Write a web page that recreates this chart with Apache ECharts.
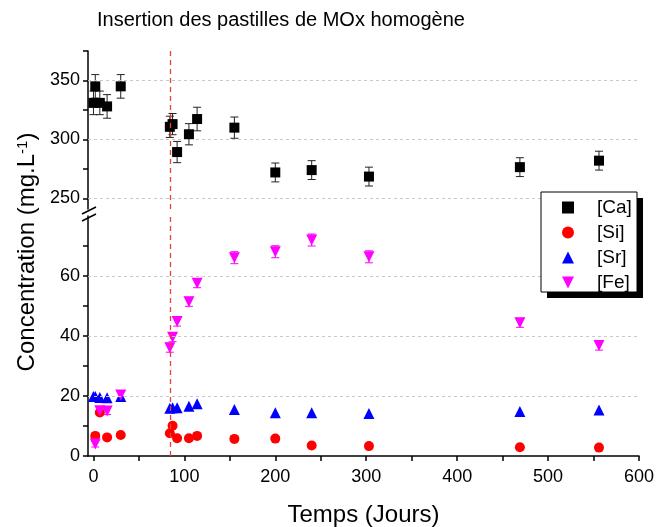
<!DOCTYPE html>
<html><head><meta charset="utf-8">
<script src="https://cdn.jsdelivr.net/npm/echarts@6/dist/echarts.min.js"></script>
<style>html,body{margin:0;padding:0;background:#fff}#c{width:659px;height:527px}</style>
</head><body><div id="c"></div>
<script>
const days  = [0, 2, 7, 15, 30, 84, 87, 92, 105, 114, 155, 200, 240, 303, 469, 556];
const ca    = [331, 345, 331, 328, 345, 310.7, 313, 289.3, 304.4, 317.3, 310, 272, 274, 268.5, 276.5, 282];
const caErr = [10, 10, 10, 10, 10, 9, 9, 9, 9, 10, 9, 8, 8, 8, 8, 8];
const si    = [null, 6.7, 14.5, 6.2, 7.0, 7.6, 10.1, 5.9, 5.9, 6.7, 5.7, 5.8, 3.5, 3.3, 2.9, 2.8];
const sr    = [19.8, 19.8, 19.5, 19.4, 19.8, 15.9, 16.1, 16.1, 16.6, 17.4, 15.5, 14.4, 14.4, 14.2, 14.8, 15.3];
const fe    = [null, 4.0, 15.1, 15.0, 20.3, 36.1, 39.6, 44.8, 51.4, 57.6, 66.1, 68.1, 72.0, 66.4, 44.4, 36.8];
const feErr = [0, 1, 1.2, 1.2, 1.2, 1.5, 1.5, 1.5, 1.5, 1.5, 2, 2, 2, 2, 1.5, 1.5];
const insertionDay = 84;
const xLabels = [0, 100, 200, 300, 400, 500, 600];
const xTicks = [0, 50, 100, 150, 200, 250, 300, 350, 400, 450, 500, 550, 600];
const upperLabels = [250, 300, 350];
const upperTicks = [250, 275, 300, 325, 350, 375];
const lowerLabels = [0, 20, 40, 60];
const lowerTicks = [0, 10, 20, 30, 40, 50, 60, 70];
const lowerGrid = [20, 40, 60];

const FONT = 'Liberation Sans';
const pts = arr => days.map((d, i) => arr[i] == null ? null : [d, arr[i]]).filter(Boolean);
const errPts = (arr, err) => days.map((d, i) => arr[i] == null || !err[i] ? null : [d, arr[i] - err[i], arr[i] + err[i]]).filter(Boolean);

function errSeries(xi, yi, data, color) {
  return {
    type: 'custom', xAxisIndex: xi, yAxisIndex: yi, silent: true, z: 1,
    encode: { x: 0, y: [1, 2] },
    data: data,
    renderItem: function (params, api) {
      const x = api.value(0), lo = api.value(1), hi = api.value(2);
      const a = api.coord([x, hi]), b = api.coord([x, lo]);
      const w = 4, st = { stroke: color, lineWidth: 1 };
      return { type: 'group', children: [
        { type: 'line', shape: { x1: a[0], y1: a[1], x2: b[0], y2: b[1] }, style: st },
        { type: 'line', shape: { x1: a[0] - w, y1: a[1], x2: a[0] + w, y2: a[1] }, style: st },
        { type: 'line', shape: { x1: b[0] - w, y1: b[1], x2: b[0] + w, y2: b[1] }, style: st }
      ]};
    }
  };
}
const gridLine = vals => ({
  silent: true, symbol: ['none', 'none'], label: { show: false },
  lineStyle: { color: '#c8c8c8', type: [3, 3], width: 1 },
  data: vals.map(v => ({ yAxis: v }))
});
const redLine = {
  silent: true, symbol: ['none', 'none'], label: { show: false },
  lineStyle: { color: '#e8423f', type: [5, 4], width: 1.3 },
  data: [{ xAxis: insertionDay }]
};
const axisCommon = {
  axisLine: { show: true, onZero: false, lineStyle: { color: '#000', width: 1.5 } },
  axisTick: { show: true, inside: false, length: 5, lineStyle: { color: '#000', width: 1.5 } },
  splitLine: { show: false },
  axisLabel: { color: '#000', fontSize: 18, fontFamily: FONT }
};

const chart = echarts.init(document.getElementById('c'), null, { renderer: 'canvas' });
chart.setOption({
  animation: false,
  backgroundColor: '#fff',
  title: { text: 'Insertion des pastilles de MOx homogène', left: 92, top: 5,
    textStyle: { fontFamily: FONT, fontSize: 20, fontWeight: 'normal', color: '#000' } },
  grid: [
    { left: 88, top: 51, width: 551, height: 158, containLabel: false, outerBoundsMode: 'none' },
    { left: 88, top: 216, width: 551, height: 240, containLabel: false, outerBoundsMode: 'none' }
  ],
  xAxis: [
    { type: 'value', gridIndex: 0, min: -6, max: 600, show: false },
    Object.assign({}, axisCommon, { type: 'value', gridIndex: 1, min: -6, max: 600,
      axisTick: Object.assign({}, axisCommon.axisTick, { customValues: xTicks }),
      axisLabel: Object.assign({}, axisCommon.axisLabel, { customValues: xLabels, margin: 12 }),
      name: 'Temps (Jours)', nameLocation: 'middle', nameGap: 47,
      nameTextStyle: { fontFamily: FONT, fontSize: 24, color: '#000' } })
  ],
  yAxis: [
    Object.assign({}, axisCommon, { type: 'value', gridIndex: 0, min: 241, max: 375,
      axisTick: Object.assign({}, axisCommon.axisTick, { customValues: upperTicks }),
      axisLabel: Object.assign({}, axisCommon.axisLabel, { customValues: upperLabels, margin: 8 }) }),
    Object.assign({}, axisCommon, { type: 'value', gridIndex: 1, min: 0, max: 80,
      axisTick: Object.assign({}, axisCommon.axisTick, { customValues: lowerTicks }),
      axisLabel: Object.assign({}, axisCommon.axisLabel, { customValues: lowerLabels, margin: 8 }) })
  ],
  legend: {
    orient: 'vertical', left: 541, top: 192, z: 30,
    padding: [6, 6, 3, 21], itemGap: 6, itemWidth: 12, itemHeight: 12,
    textStyle: { fontFamily: FONT, fontSize: 19, color: '#000', padding: [0, 0, 0, 18] },
    data: [
      { name: '[Ca]', icon: 'rect' },
      { name: '[Si]', icon: 'circle' },
      { name: '[Sr]', icon: 'triangle' },
      { name: '[Fe]', icon: 'path://M0,0 L10,0 L5,10 Z' }
    ]
  },
  graphic: [
    { type: 'rect', z: 10, shape: { x: 547, y: 198, width: 96, height: 100 }, style: { fill: '#000' } },
    { type: 'rect', z: 11, shape: { x: 541, y: 192, width: 96, height: 100 }, style: { fill: '#fff', stroke: '#000', lineWidth: 1 } },
    { type: 'line', shape: { x1: 82, y1: 214, x2: 96, y2: 207 }, style: { stroke: '#000', lineWidth: 1.5 } },
    { type: 'line', shape: { x1: 82, y1: 221, x2: 96, y2: 214 }, style: { stroke: '#000', lineWidth: 1.5 } },
    { type: 'text', x: 27, y: 252, rotation: Math.PI / 2,
      style: { text: '{a|Concentration (mg.L}{b|-1}{a|)}', align: 'center', verticalAlign: 'middle',
        rich: { a: { fontFamily: FONT, fontSize: 24, fill: '#000' },
                b: { fontFamily: FONT, fontSize: 15, fill: '#000', verticalAlign: 'top' } } } }
  ],
  series: [
    errSeries(0, 0, errPts(ca, caErr), '#222'),
    errSeries(1, 1, errPts(fe, feErr), '#ff00ff'),
    { name: '[Ca]', type: 'scatter', xAxisIndex: 0, yAxisIndex: 0, symbol: 'rect', symbolSize: 10,
      itemStyle: { color: '#000', opacity: 1 }, data: pts(ca), z: 3,
      markLine: gridLine(upperLabels) },
    { name: '[Si]', type: 'scatter', xAxisIndex: 1, yAxisIndex: 1, symbol: 'circle', symbolSize: 10,
      itemStyle: { color: '#ff0000', opacity: 1 }, data: pts(si), z: 3,
      markLine: gridLine(lowerGrid) },
    { name: '[Sr]', type: 'scatter', xAxisIndex: 1, yAxisIndex: 1, symbol: 'triangle', symbolSize: 11,
      itemStyle: { color: '#0000ff', opacity: 1 }, data: pts(sr), z: 3 },
    { name: '[Fe]', type: 'scatter', xAxisIndex: 1, yAxisIndex: 1, symbol: 'triangle', symbolRotate: 180, symbolSize: 11,
      itemStyle: { color: '#ff00ff', opacity: 1 }, data: pts(fe), z: 4,
      markLine: redLine },
    { type: 'scatter', xAxisIndex: 0, yAxisIndex: 0, data: [], markLine: redLine, silent: true }
  ]
});
</script></body></html>
